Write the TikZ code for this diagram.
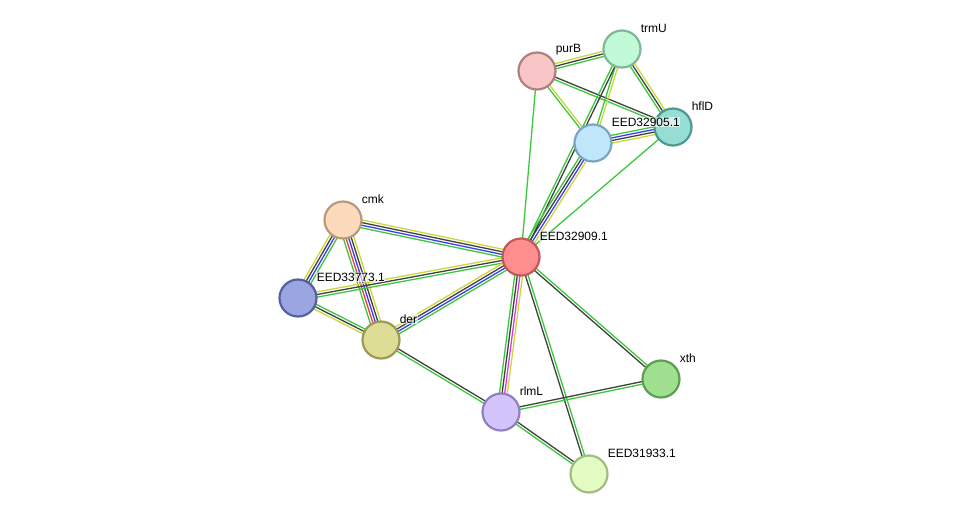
\documentclass[tikz,border=0pt]{standalone}
\usepackage{fontspec}
\setmainfont{Liberation Sans}
\usepackage{tikz}
\usetikzlibrary{
	calc,
	backgrounds
}
\usepackage{xcolor}

% evidence colours
\definecolor{ev green}{HTML}{3CC83C}
\definecolor{ev black}{HTML}{404040}
\definecolor{ev blue}{HTML}{3C3CF0}
\definecolor{ev yellow}{HTML}{C8D83C}
\definecolor{ev red}{HTML}{F03C3C}
\definecolor{ev pink}{HTML}{D83CD8}

\tikzset{
	protein/.style={circle, draw, line width=2.2pt, minimum size=37pt, inner sep=0pt},
	lbl/.style={anchor=west, font=\fontsize{12}{14}\selectfont, inner sep=0.6pt,
		fill=white, fill opacity=0.6, text opacity=1},
	strand/.style={line width=1.3pt}
}

% #1, #2 proteins, #3 number of strands, #4 colours
\newcommand{\link}[4]{%
	\foreach \c [count=\i] in {#4}{%
		\pgfmathsetmacro{\off}{(\i-(#3+1)/2)*2.6}%
		\draw[strand,\c] ($(#1)!\off pt!90:(#2)$) -- ($(#2)!\off pt!-90:(#1)$);
	}%
}

\begin{document}
\begin{tikzpicture}[x=1pt,y=-1pt]
		\useasboundingbox (0,0) rectangle (975,520);
		
		% proteins
		\node[protein, fill={rgb,255:red,255;green,143;blue,143}, draw={rgb,255:red,196;green,88;blue,88}] (p09) at (521,257) {};
		\node[protein, fill={rgb,255:red,248;green,198;blue,198}, draw={rgb,255:red,176;green,128;blue,128}] (purB) at (537,71) {};
		\node[protein, fill={rgb,255:red,194;green,250;blue,216}, draw={rgb,255:red,128;green,184;blue,150}] (trmU) at (622,49) {};
		\node[protein, fill={rgb,255:red,150;green,222;blue,212}, draw={rgb,255:red,78;green,152;blue,142}] (hflD) at (673,127) {};
		\node[protein, fill={rgb,255:red,192;green,230;blue,250}, draw={rgb,255:red,122;green,164;blue,192}] (p05) at (593,143) {};
		\node[protein, fill={rgb,255:red,252;green,218;blue,188}, draw={rgb,255:red,184;green,154;blue,124}] (cmk) at (343,220) {};
		\node[protein, fill={rgb,255:red,155;green,166;blue,224}, draw={rgb,255:red,84;green,96;blue,160}] (p73) at (298,298) {};
		\node[protein, fill={rgb,255:red,222;green,221;blue,150}, draw={rgb,255:red,154;green,154;blue,86}] (der) at (381,340) {};
		\node[protein, fill={rgb,255:red,212;green,196;blue,252}, draw={rgb,255:red,144;green,128;blue,192}] (rlmL) at (501,412) {};
		\node[protein, fill={rgb,255:red,158;green,224;blue,144}, draw={rgb,255:red,94;green,158;blue,82}] (xth) at (661,379) {};
		\node[protein, fill={rgb,255:red,226;green,252;blue,196}, draw={rgb,255:red,160;green,188;blue,128}] (p33) at (589,474) {};
		
		% links
		\begin{scope}[on background layer]
			\link{purB}{trmU}{3}{ev green,ev black,ev yellow}
			\link{purB}{hflD}{2}{ev green,ev black}
			\link{purB}{p05}{2}{ev green,ev yellow}
			\link{purB}{p09}{1}{ev green}
			\link{trmU}{hflD}{3}{ev green,ev black,ev yellow}
			\link{trmU}{p05}{2}{ev green,ev yellow}
			\link{trmU}{p09}{2}{ev green,ev black}
			\link{hflD}{p05}{4}{ev green,ev blue,ev black,ev yellow}
			\link{hflD}{p09}{1}{ev green}
			\link{p05}{p09}{4}{ev green,ev black,ev blue,ev yellow}
			\link{cmk}{p09}{4}{ev green,ev blue,ev black,ev yellow}
			\link{cmk}{p73}{4}{ev yellow,ev black,ev blue,ev green}
			\link{cmk}{der}{5}{ev green,ev red,ev blue,ev black,ev yellow}
			\link{p73}{p09}{3}{ev green,ev black,ev yellow}
			\link{p73}{der}{3}{ev yellow,ev black,ev green}
			\link{der}{p09}{4}{ev green,ev blue,ev black,ev yellow}
			\link{der}{rlmL}{2}{ev green,ev black}
			\link{p09}{rlmL}{4}{ev green,ev black,ev pink,ev yellow}
			\link{p09}{xth}{2}{ev black,ev green}
			\link{p09}{p33}{2}{ev black,ev green}
			\link{rlmL}{xth}{2}{ev green,ev black}
			\link{rlmL}{p33}{2}{ev green,ev black}
		\end{scope}
		
		% labels
		\node[lbl] at ($(p09)+(18,-21)$) {EED32909.1};
		\node[lbl] at ($(purB)+(18,-21)$) {purB};
		\node[lbl] at ($(trmU)+(18,-21)$) {trmU};
		\node[lbl] at ($(hflD)+(18,-21)$) {hflD};
		\node[lbl] at ($(p05)+(18,-21)$) {EED32905.1};
		\node[lbl] at ($(cmk)+(18,-21)$) {cmk};
		\node[lbl] at ($(p73)+(18,-21)$) {EED33773.1};
		\node[lbl] at ($(der)+(18,-21)$) {der};
		\node[lbl] at ($(rlmL)+(18,-21)$) {rlmL};
		\node[lbl] at ($(xth)+(18,-21)$) {xth};
		\node[lbl] at ($(p33)+(18,-21)$) {EED31933.1};
		
	\end{tikzpicture}
\end{document}
